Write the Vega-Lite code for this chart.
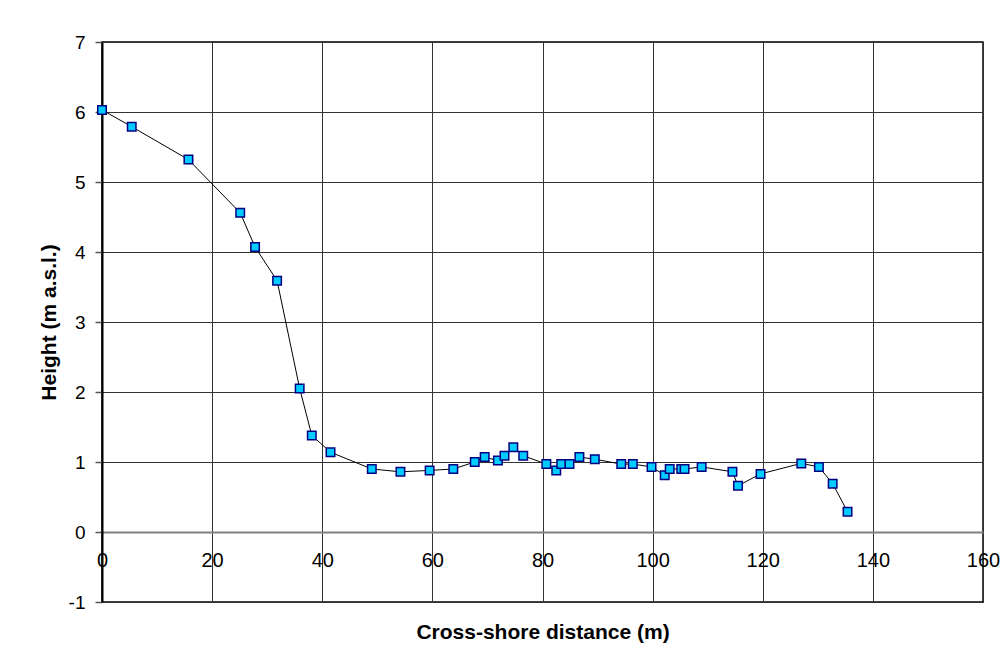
{
  "$schema": "https://vega.github.io/schema/vega-lite/v6.json",
  "width": 881,
  "height": 560,
  "autosize": {"type": "none"},
  "padding": {"left": 102, "top": 42, "right": 25, "bottom": 69},
  "background": "white",
  "config": {
    "font": "Liberation Sans",
    "view": {"stroke": "#000000", "strokeWidth": 1.5}
  },
  "data": {
    "values": [
      {"x": 0, "y": 6.03},
      {"x": 5.4, "y": 5.79},
      {"x": 15.7, "y": 5.32},
      {"x": 25.1, "y": 4.56},
      {"x": 27.8, "y": 4.07},
      {"x": 31.8, "y": 3.59},
      {"x": 35.9, "y": 2.05},
      {"x": 38.1, "y": 1.38},
      {"x": 41.5, "y": 1.14},
      {"x": 49.0, "y": 0.90},
      {"x": 54.2, "y": 0.86},
      {"x": 59.5, "y": 0.88},
      {"x": 63.8, "y": 0.90},
      {"x": 67.7, "y": 1.00},
      {"x": 69.5, "y": 1.07},
      {"x": 71.9, "y": 1.02},
      {"x": 73.1, "y": 1.09},
      {"x": 74.7, "y": 1.21},
      {"x": 76.5, "y": 1.09},
      {"x": 80.7, "y": 0.97},
      {"x": 82.5, "y": 0.88},
      {"x": 83.4, "y": 0.97},
      {"x": 84.9, "y": 0.97},
      {"x": 86.7, "y": 1.07},
      {"x": 89.5, "y": 1.04},
      {"x": 94.3, "y": 0.97},
      {"x": 96.4, "y": 0.97},
      {"x": 99.8, "y": 0.93},
      {"x": 102.2, "y": 0.81},
      {"x": 103.1, "y": 0.90},
      {"x": 105.2, "y": 0.90},
      {"x": 105.8, "y": 0.90},
      {"x": 108.9, "y": 0.93},
      {"x": 114.5, "y": 0.86},
      {"x": 115.5, "y": 0.66},
      {"x": 119.6, "y": 0.83},
      {"x": 127.0, "y": 0.98},
      {"x": 130.2, "y": 0.93},
      {"x": 132.7, "y": 0.69},
      {"x": 135.4, "y": 0.29}
    ]
  },
  "resolve": {"axis": {"x": "independent"}},
  "layer": [
    {
      "mark": {"type": "line", "color": "#000000", "strokeWidth": 1},
      "encoding": {
        "x": {
          "field": "x", "type": "quantitative",
          "scale": {"domain": [0, 160], "nice": false, "zero": false},
          "axis": {
            "orient": "top", "values": [0, 20, 40, 60, 80, 100, 120, 140, 160],
            "grid": true, "gridColor": "#333333", "gridWidth": 1, "gridOpacity": 1,
            "labels": false, "ticks": false, "domain": false, "title": null
          }
        },
        "y": {
          "field": "y", "type": "quantitative",
          "scale": {"domain": [-1, 7], "nice": false, "zero": false},
          "axis": {
            "values": [-1, 0, 1, 2, 3, 4, 5, 6, 7],
            "labelExpr": "'' + datum.value",
            "title": "Height (m a.s.l.)",
            "titleFont": "Liberation Sans", "titleFontSize": 21, "titleFontWeight": "bold",
            "titleColor": "#000000", "titlePadding": 9,
            "labelFont": "Liberation Sans", "labelFontSize": 19, "labelColor": "#000000",
            "labelPadding": 10, "tickSize": 7, "tickColor": "#555555", "tickWidth": 1.5,
            "domainColor": "#000000", "domainWidth": 2,
            "grid": true, "gridColor": "#333333", "gridWidth": 1, "gridOpacity": 1
          }
        }
      }
    },
    {
      "mark": {"type": "square", "size": 72, "filled": true, "fill": "#00CCFF", "stroke": "#000080", "strokeWidth": 1.5, "opacity": 1},
      "encoding": {
        "x": {
          "field": "x", "type": "quantitative",
          "scale": {"domain": [0, 160], "nice": false, "zero": false},
          "axis": {
            "orient": "bottom", "offset": -70,
            "values": [0, 20, 40, 60, 80, 100, 120, 140, 160],
            "grid": false,
            "title": "Cross-shore distance (m)",
            "titleFont": "Liberation Sans", "titleFontSize": 21, "titleFontWeight": "bold",
            "titleColor": "#000000", "titlePadding": 51,
            "labelFont": "Liberation Sans", "labelFontSize": 20, "labelColor": "#000000",
            "labelPadding": 12, "tickSize": 6, "tickColor": "#333333", "tickWidth": 1,
            "domainColor": "#808080", "domainWidth": 2,
            "labelFlush": false, "labelOverlap": false
          }
        },
        "y": {"field": "y", "type": "quantitative"}
      }
    }
  ]
}
